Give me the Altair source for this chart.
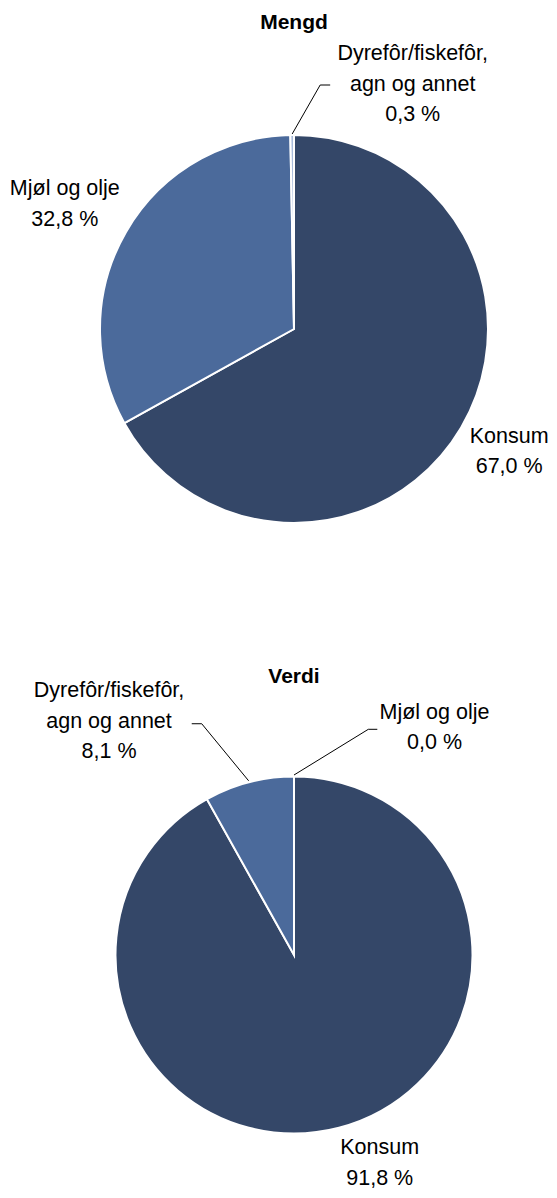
import altair as alt
import pandas as pd

# ---- data ----
panels = ["Mengd", "Verdi"]
cats_mengd = ["Konsum", "Mjøl og olje", "Dyrefôr/fiskefôr, agn og annet"]
vals_mengd = [67.0, 32.8, 0.3]
cats_verdi = ["Konsum", "Dyrefôr/fiskefôr, agn og annet", "Mjøl og olje"]
vals_verdi = [91.8, 8.1, 0.0]

# ---- styles / layout ----
slice_colors = ["#344768", "#4b6a9b", "#a9bcdb"]
FONT = "Liberation Sans"
FS, LH = 21.5, 30.5
W, H = 541, 1182
centers = {"Mengd": (286, 321, 194), "Verdi": (286, 947, 178.5)}
title_y = {"Mengd": 15, "Verdi": 669}

rows = []
for p, cats, vals in [("Mengd", cats_mengd, vals_mengd), ("Verdi", cats_verdi, vals_verdi)]:
    for i, (c, v) in enumerate(zip(cats, vals)):
        rows.append({"panel": p, "idx": i, "category": c, "value": v})
df = pd.DataFrame(rows)

base = (
    alt.Chart(df)
    .transform_joinaggregate(total="sum(value)", groupby=["panel"])
    .transform_window(cum="sum(value)", groupby=["panel"],
                      sort=[alt.SortField("idx", order="ascending")], frame=[None, 0])
    .transform_calculate(
        a0="2*PI*(datum.cum - datum.value)/datum.total",
        a1="2*PI*datum.cum/datum.total",
    )
    .transform_calculate(
        am="(datum.a0 + datum.a1)/2",
        label="replace(datum.category, ', ', ',\\n') + '\\n' + replace(format(datum.value, '.1f'), '.', ',') + ' %'",
    )
)


def sel(panel, cat=None):
    f = f"datum.panel == '{panel}'"
    if cat is not None:
        f += f" && datum.category == '{cat}'"
    return f


def arcs(panel):
    cx, cy, r = centers[panel]
    return (
        base.transform_filter(sel(panel) + " && datum.value > 0")
        .mark_arc(outerRadius=r, stroke="white", strokeWidth=2)
        .encode(
            theta=alt.Theta("a0:Q", scale=None),
            theta2="a1:Q",
            color=alt.Color("idx:O", scale=alt.Scale(domain=[0, 1, 2], range=slice_colors), legend=None),
            x=alt.value(cx),
            y=alt.value(cy),
        )
    )


def label(panel, cat, R, dx, dy):
    """dy is for the centre of the text block; the first line is shifted up."""
    cx, cy, _ = centers[panel]
    nlines = 3 if ", " in cat else 2
    return (
        base.transform_filter(sel(panel, cat))
        .mark_text(font=FONT, fontSize=FS, lineHeight=LH, lineBreak="\n",
                   align="center", baseline="middle", radius=R, dx=dx,
                   dy=dy - (nlines - 1) * LH / 2, color="#000000")
        .encode(
            x=alt.value(cx), y=alt.value(cy),
            theta=alt.Theta("am:Q", scale=None),
            text="label:N",
        )
    )


def leader(panel, cat, R, dx, dy, r0, ex, ey, hlen):
    cx, cy, _ = centers[panel]
    lx = f"({cx} + {R}*sin(datum.am) + {dx})"
    ly = f"({cy} - {R}*cos(datum.am) + {dy})"
    b = (
        base.transform_filter(sel(panel, cat))
        .transform_calculate(
            sx=f"{cx} + {r0}*sin(datum.am)",
            sy=f"{cy} - {r0}*cos(datum.am)",
            ex=f"{lx} + {ex}",
            ey=f"{ly} + {ey}",
        )
        .transform_calculate(hx=f"datum.ex + {hlen}")
    )
    diag = b.mark_rule(color="#000000", strokeWidth=1).encode(
        x=alt.X("sx:Q", scale=None, axis=None), y=alt.Y("sy:Q", scale=None, axis=None),
        x2="ex:Q", y2="ey:Q")
    horiz = b.mark_rule(color="#000000", strokeWidth=1).encode(
        x=alt.X("ex:Q", scale=None, axis=None), y=alt.Y("ey:Q", scale=None, axis=None),
        x2="hx:Q", y2="ey:Q")
    return [diag, horiz]


def title(panel):
    cx = centers[panel][0]
    return (
        alt.Chart(pd.DataFrame({"panel": panels}))
        .transform_filter(f"datum.panel == '{panel}'")
        .mark_text(font=FONT, fontSize=21, fontWeight="bold", align="center",
                   baseline="middle", color="#000000")
        .encode(text="panel:N", x=alt.value(cx), y=alt.value(title_y[panel]))
    )


DY = "Dyrefôr/fiskefôr, agn og annet"
layers = [
    arcs("Mengd"), arcs("Verdi"),
    title("Mengd"), title("Verdi"),
    label("Mengd", "Konsum", 252, -2, -5),
    label("Mengd", "Mjøl og olje", 261, -3, 6),
    label("Mengd", DY, 246, 121, 1.5),
    label("Verdi", "Konsum", 233, 27, -17),
    label("Verdi", DY, 240, -124.5, -1),
    label("Verdi", "Mjøl og olje", 227, 140.5, 0),
]
layers += leader("Mengd", DY, 246, 121, 1.5, 195, -92.5, 0.5, 10)
layers += leader("Verdi", DY, 240, -124.5, -1, 180, 92.7, 2, -10)
layers += leader("Verdi", "Mjøl og olje", 227, 140.5, 0, 180, -66.2, 1.3, 9)

chart = (
    alt.layer(*layers)
    .properties(width=W, height=H, padding=0, autosize="none")
    .configure_view(stroke=None)
)

chart.save("out.html", embed_options={"renderer": "svg", "actions": False})
